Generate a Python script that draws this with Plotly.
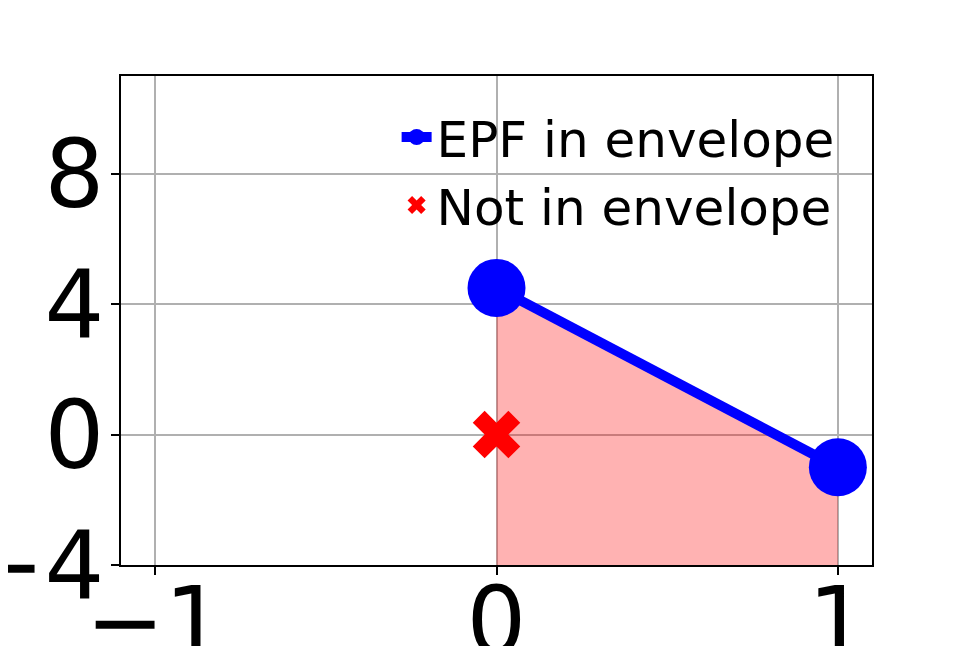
import plotly.graph_objects as go

# envelope points (EPF in envelope) and the point outside it
epf_x = [0, 1]
epf_y = [4.5, -1]
out_x = [0]
out_y = [0]

x_ticks = [-1, 0, 1]
y_ticks = [-4, 0, 4, 8]
x_range = [-1.1, 1.1]
y_range = [-4, 11]

fig = go.Figure()

# shaded area under the envelope, down to the bottom of the axis
fill_x = [epf_x[0]] + epf_x + [epf_x[-1]]
fill_y = [y_range[0]] + epf_y + [y_range[0]]
fig.add_trace(go.Scatter(
    x=fill_x, y=fill_y,
    mode="lines",
    fill="toself",
    fillcolor="rgba(255,0,0,0.3)",
    line=dict(width=0),
    showlegend=False,
    hoverinfo="skip"
))

fig.add_trace(go.Scatter(
    x=epf_x, y=epf_y,
    mode="lines+markers",
    line=dict(color="blue", width=10),
    marker=dict(color="blue", size=58, symbol="circle"),
    name="EPF in envelope"
))

fig.add_trace(go.Scatter(
    x=out_x, y=out_y,
    mode="markers",
    marker=dict(color="red", size=42, symbol="x"),
    name="Not in envelope"
))

axis_style = dict(
    showgrid=True,
    gridcolor="#b0b0b0",
    gridwidth=2,
    showline=True,
    linecolor="black",
    linewidth=2,
    mirror=True,
    ticks="outside",
    ticklen=8,
    tickwidth=2,
    tickcolor="black",
    zeroline=False,
    automargin=False,
    tickfont=dict(family="DejaVu Sans", size=94, color="black"),
)

fig.update_xaxes(range=x_range, tickvals=x_ticks, ticklabelstandoff=-34, **axis_style)
fig.update_yaxes(range=y_range, tickvals=y_ticks, ticklabelstandoff=-12, **axis_style)

# the page body adds an 8px offset, so the margins are shifted to compensate
fig.update_layout(
    width=969,
    height=646,
    margin=dict(l=113, r=105, t=68, b=89),
    plot_bgcolor="white",
    paper_bgcolor="white",
    font=dict(family="DejaVu Sans", color="black"),
    legend=dict(
        x=0.367, y=0.955,
        xanchor="left", yanchor="top",
        bgcolor="rgba(0,0,0,0)",
        font=dict(family="DejaVu Sans", size=50, color="black"),
        itemsizing="trace",
    ),
)

fig.write_html("out.html")
